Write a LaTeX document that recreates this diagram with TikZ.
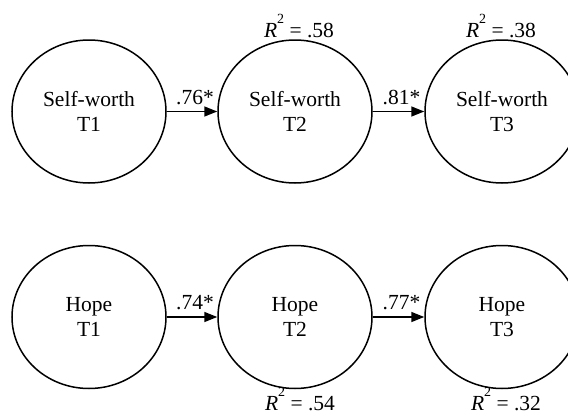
\documentclass[tikz,border=0pt]{standalone}
\usepackage{fontspec}
\setmainfont{Liberation Serif}
\usetikzlibrary{shapes.geometric,arrows.meta}
\newcommand\rsqlab[1]{{\itshape R}\raisebox{13.5pt}{\fontsize{14}{14}\selectfont 2} = #1}
\begin{document}
\begin{tikzpicture}[x=1pt,y=-1pt,
  latent/.style={draw,ellipse,line width=1.5pt,minimum width=154pt,minimum height=143pt,
    inner sep=0pt,align=center,font=\fontsize{21.5}{25}\selectfont},
  pathar/.style={line width=1.5pt,-{Triangle[length=13pt,width=10pt]}},
  coef/.style={above=6pt,inner sep=0pt,font=\fontsize{21.5}{25}\selectfont},
  rsq/.style={anchor=base,inner sep=0pt,font=\fontsize{21.5}{25}\selectfont}]
\useasboundingbox (0,0) rectangle (568,415);
\clip (0,0) rectangle (568,415);
% top row
\node[latent] (sw1) at (89,111.5) {Self-worth\\T1};
\node[latent] (sw2) at (295,111.5) {Self-worth\\T2};
\node[latent] (sw3) at (502,111.5) {Self-worth\\T3};
% bottom row
\node[latent] (h1) at (89,317) {Hope\\T1};
\node[latent] (h2) at (295,317) {Hope\\T2};
\node[latent] (h3) at (502,317) {Hope\\T3};
% paths
\draw[pathar] (sw1) -- node[coef,xshift=3pt] {.76*} (sw2);
\draw[pathar] (sw2) -- node[coef,xshift=3pt] {.81*} (sw3);
\draw[pathar] (h1) -- node[coef,xshift=3pt] {.74*} (h2);
\draw[pathar] (h2) -- node[coef,xshift=3pt] {.77*} (h3);
% R squared
\node[rsq] (r2) at (299,37) {\rsqlab{.58}};
\node[rsq] (r3) at (501,37) {\rsqlab{.38}};
\node[rsq] (r5) at (300,410) {\rsqlab{.54}};
\node[rsq] (r6) at (506,410) {\rsqlab{.32}};
\end{tikzpicture}
\end{document}
